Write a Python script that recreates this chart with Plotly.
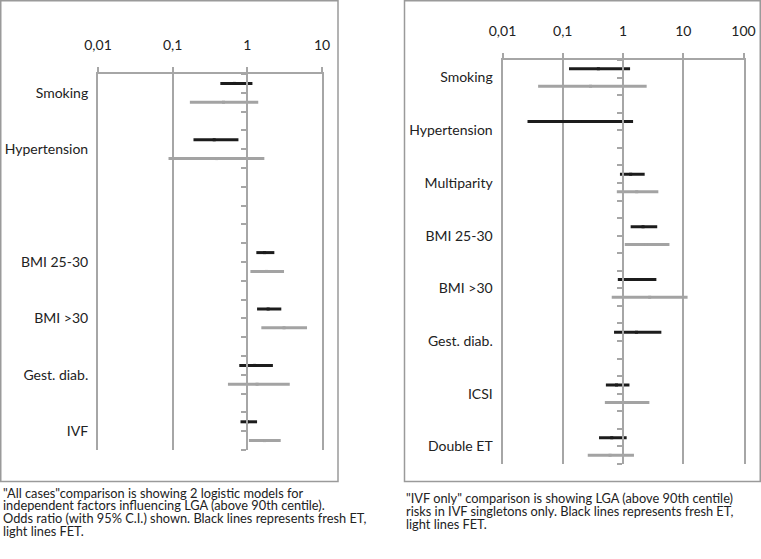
import plotly.graph_objects as go

W, H = 761, 559

# ---------------- data ----------------
# Left panel: "All cases"
left_labels = ["Smoking", "Hypertension", "BMI 25-30", "BMI >30", "Gest. diab.", "IVF"]
left_label_pos = [1, 4, 10, 13, 16, 19]
left_fresh_or = [0.67, 0.36, 1.70, 1.90, 1.25, 1.00]
left_fresh_lo = [0.435, 0.19, 1.32, 1.35, 0.78, 0.81]
left_fresh_hi = [1.17, 0.76, 2.30, 2.85, 2.20, 1.35]
left_fet_or = [0.48, 0.39, 1.80, 3.10, 1.35, 1.70]
left_fet_lo = [0.17, 0.088, 1.10, 1.54, 0.55, 1.05]
left_fet_hi = [1.40, 1.69, 3.10, 6.30, 3.70, 2.80]
left_ticks = [0.01, 0.1, 1, 10]
left_ticktext = ["0,01", "0,1", "1", "10"]

# Right panel: "IVF only"
right_labels = ["Smoking", "Hypertension", "Multiparity", "BMI 25-30", "BMI >30",
                "Gest. diab.", "ICSI", "Double ET"]
right_label_pos = [1, 4, 7, 10, 13, 16, 19, 22]
right_fresh_or = [0.39, 0.19, 1.34, 2.15, 1.67, 1.67, 0.78, 0.65]
right_fresh_lo = [0.127, 0.026, 0.89, 1.34, 0.82, 0.71, 0.52, 0.40]
right_fresh_hi = [1.31, 1.47, 2.29, 3.70, 3.58, 4.33, 1.28, 1.15]
right_fet_labels = ["Smoking", "Multiparity", "BMI 25-30", "BMI >30", "ICSI", "Double ET"]
right_fet_pos = [1, 7, 10, 13, 19, 22]
right_fet_or = [0.29, 1.69, 2.44, 2.77, 1.12, 0.61]
right_fet_lo = [0.039, 0.79, 1.07, 0.65, 0.50, 0.26]
right_fet_hi = [2.47, 3.86, 5.90, 11.8, 2.74, 1.52]
right_ticks = [0.01, 0.1, 1, 10, 100]
right_ticktext = ["0,01", "0,1", "1", "10", "100"]

left_caption = ['"All cases"comparison is showing 2 logistic models for',
                'independent factors influencing LGA (above 90th centile).',
                'Odds ratio (with 95% C.I.) shown. Black lines represents fresh ET,',
                'light lines FET.']
right_caption = ['"IVF only" comparison is showing LGA (above 90th centile)',
                 'risks in IVF singletons only. Black lines represents fresh ET,',
                 'light lines FET.']

# ---------------- style ----------------
FONT = "Lato"
BLACK = "#1c1c1c"
GRAY = "#a3a3a3"
GRID = "#a6a6a6"

def px_x(p):
    return p / W

def px_y(p):
    return 1 - p / H

fig = go.Figure()

def add_ci(xref, yref, ors, los, his, pos, offset, color):
    fig.add_trace(go.Scatter(
        x=ors, y=[p + offset for p in pos], mode="markers",
        xaxis=xref, yaxis=yref,
        marker=dict(symbol="square", size=3, color=color),
        error_x=dict(type="data", symmetric=False,
                     array=[h - o for h, o in zip(his, ors)],
                     arrayminus=[o - l for o, l in zip(ors, los)],
                     thickness=3, width=0, color=color),
        showlegend=False, hoverinfo="skip"))

add_ci("x", "y", left_fet_or, left_fet_lo, left_fet_hi, left_label_pos, 0.5, GRAY)
add_ci("x", "y", left_fresh_or, left_fresh_lo, left_fresh_hi, left_label_pos, -0.5, BLACK)
add_ci("x2", "y2", right_fet_or, right_fet_lo, right_fet_hi, right_fet_pos, 0.5, GRAY)
add_ci("x2", "y2", right_fresh_or, right_fresh_lo, right_fresh_hi, right_label_pos, -0.5, BLACK)

# invisible traces so the "OR = 1" axes exist
fig.add_trace(go.Scatter(x=[1], y=[0], xaxis="x", yaxis="y3", mode="markers",
                         marker=dict(opacity=0), showlegend=False, hoverinfo="skip"))
fig.add_trace(go.Scatter(x=[1], y=[0], xaxis="x2", yaxis="y4", mode="markers",
                         marker=dict(opacity=0), showlegend=False, hoverinfo="skip"))

L_x0, L_x1, L_y0, L_y1 = 98, 322, 74, 450
R_x0, R_x1, R_y0, R_y1 = 502.5, 743.5, 60, 464

def xaxis_common(dom, rng, ticks, ticktext, anchor):
    return dict(type="log", domain=[px_x(dom[0]), px_x(dom[1])], range=rng,
                side="top", tickvals=ticks, ticktext=ticktext, anchor=anchor,
                showgrid=True, gridcolor=GRID, gridwidth=2,
                showline=True, linecolor=GRID, linewidth=1.5,
                ticks="outside", ticklen=5, tickcolor=GRID, tickwidth=2,
                tickfont=dict(family=FONT, size=14, color="#222"),
                ticklabelstandoff=12, zeroline=False, fixedrange=True,
                automargin=False)

def ylabel_axis(dom, rng, pos, labels, anchor):
    return dict(domain=[px_y(dom[1]), px_y(dom[0])], range=rng, anchor=anchor,
                tickvals=pos, ticktext=labels,
                showgrid=False, zeroline=False,
                showline=True, mirror=True, linecolor=GRID, linewidth=2,
                ticks="", tickfont=dict(family=FONT, size=14, color="#222"),
                ticklabelstandoff=5, automargin=False, fixedrange=True)

def one_axis(overlay, pos, rng):
    return dict(overlaying=overlay, anchor="free", position=pos,
                range=rng, dtick=1, tick0=0, showticklabels=False,
                showgrid=False, zeroline=False, showline=True,
                linecolor=GRID, linewidth=2,
                ticks="outside", ticklen=5, tickcolor=GRID, tickwidth=1.5,
                automargin=False, fixedrange=True)

fig.update_layout(
    width=W, height=H, margin=dict(l=0, r=0, t=0, b=0, autoexpand=False),
    paper_bgcolor="white", plot_bgcolor="rgba(0,0,0,0)",
    xaxis=xaxis_common((L_x0, L_x1), [-2, 1], left_ticks, left_ticktext, "y"),
    yaxis=ylabel_axis((L_y0, L_y1), [20, 0], left_label_pos, left_labels, "x"),
    yaxis3=one_axis("y", px_x(L_x0 + (L_x1 - L_x0) * 2 / 3), [20, 0]),
    xaxis2=xaxis_common((R_x0, R_x1), [-2, 2], right_ticks, right_ticktext, "y2"),
    yaxis2=ylabel_axis((R_y0, R_y1), [23, 0], right_label_pos, right_labels, "x2"),
    yaxis4=one_axis("y2", px_x(R_x0 + (R_x1 - R_x0) * 2 / 4), [23, 0]),
    showlegend=False,
)

# outer frames
fig.add_shape(type="rect", xref="paper", yref="paper",
              x0=px_x(0.75), x1=px_x(338), y0=px_y(481.5), y1=px_y(0.75),
              line=dict(color="#9a9a9a", width=1.5), layer="below")
fig.add_shape(type="rect", xref="paper", yref="paper",
              x0=px_x(404.5), x1=px_x(760.25), y0=px_y(481.5), y1=px_y(0.75),
              line=dict(color="#9a9a9a", width=1.5), layer="below")

# captions, one line each
for i, line in enumerate(left_caption):
    fig.add_annotation(text=line, xref="paper", yref="paper",
                       x=px_x(1), y=px_y(492.5 + 12.8 * i), xanchor="left", yanchor="middle",
                       align="left", showarrow=False,
                       font=dict(family=FONT, size=12.8, color="#222"))
for i, line in enumerate(right_caption):
    fig.add_annotation(text=line, xref="paper", yref="paper",
                       x=px_x(404), y=px_y(497.5 + 13 * i), xanchor="left", yanchor="middle",
                       align="left", showarrow=False,
                       font=dict(family=FONT, size=12.8, color="#222"))

fig.write_html("out.html", config={"displayModeBar": False},
               post_script="document.body.style.margin='0px';")
